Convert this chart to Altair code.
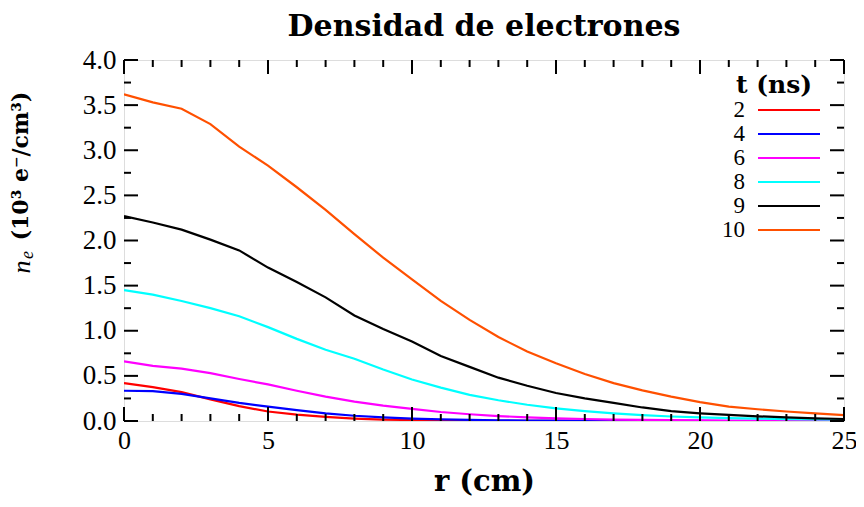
import altair as alt
import pandas as pd

# ---- data ----
r_cm = list(range(26))
t_labels = ["2", "4", "6", "8", "9", "10"]
colors = ["#ff0000", "#0000ff", "#ff00ff", "#00ffff", "#000000", "#ff5000"]

n_t2 = [0.42, 0.375, 0.32, 0.24, 0.165, 0.105, 0.07, 0.045, 0.027, 0.016, 0.010, 0.006, 0.004,
        0.003, 0.002, 0.001, 0.001, 0.001, 0.0, 0.0, 0.0, 0.0, 0.0, 0.0, 0.0, 0.0]
n_t4 = [0.335, 0.33, 0.30, 0.25, 0.20, 0.16, 0.12, 0.085, 0.058, 0.04, 0.027, 0.018, 0.012,
        0.008, 0.005, 0.004, 0.003, 0.002, 0.001, 0.001, 0.001, 0.0, 0.0, 0.0, 0.0, 0.0]
n_t6 = [0.66, 0.61, 0.58, 0.53, 0.465, 0.405, 0.335, 0.27, 0.215, 0.17, 0.135, 0.10, 0.075,
        0.055, 0.04, 0.03, 0.022, 0.016, 0.012, 0.009, 0.007, 0.005, 0.004, 0.003, 0.002, 0.002]
n_t8 = [1.45, 1.40, 1.33, 1.25, 1.16, 1.04, 0.91, 0.79, 0.69, 0.57, 0.46, 0.37, 0.29,
        0.23, 0.18, 0.14, 0.11, 0.085, 0.066, 0.05, 0.04, 0.032, 0.026, 0.021, 0.017, 0.014]
n_t9 = [2.27, 2.20, 2.12, 2.01, 1.89, 1.70, 1.54, 1.37, 1.17, 1.02, 0.88, 0.72, 0.60,
        0.48, 0.39, 0.31, 0.25, 0.20, 0.15, 0.11, 0.085, 0.067, 0.052, 0.04, 0.03, 0.022]
n_t10 = [3.62, 3.53, 3.46, 3.29, 3.04, 2.83, 2.59, 2.34, 2.07, 1.81, 1.57, 1.33, 1.12,
         0.93, 0.77, 0.64, 0.52, 0.42, 0.34, 0.27, 0.21, 0.16, 0.13, 0.105, 0.085, 0.066]

x_major = [0, 5, 10, 15, 20, 25]
x_minor = [v for v in range(26) if v % 5 != 0]
y_major = [0.0, 0.5, 1.0, 1.5, 2.0, 2.5, 3.0, 3.5, 4.0]
y_minor = [0.25, 0.75, 1.25, 1.75, 2.25, 2.75, 3.25, 3.75]

series = [n_t2, n_t4, n_t6, n_t8, n_t9, n_t10]
rows = []
for lab, vals in zip(t_labels, series):
    for r, v in zip(r_cm, vals):
        rows.append({"r": r, "n": v, "t": lab})
df = pd.DataFrame(rows)

W, H = 720, 361
SERIF = "Liberation Serif"
BOLD = "DejaVu Serif"

xscale = alt.Scale(domain=[0, 25], nice=False, zero=False)
yscale = alt.Scale(domain=[0, 4], nice=False, zero=False)
cscale = alt.Scale(domain=t_labels, range=colors)

lines = alt.Chart(df).mark_line(strokeWidth=2.2, clip=True).encode(
    x=alt.X("r:Q", scale=xscale,
            axis=alt.Axis(values=x_major, ticks=False, domain=False, grid=False,
                          labelFont=SERIF, labelFontSize=26, labelColor="black",
                          labelPadding=6, labelFlush=False, tickSize=0,
                          title="r (cm)", titleFont=BOLD, titleFontSize=29,
                          titleFontWeight="bold", titleColor="black", titlePadding=14)),
    y=alt.Y("n:Q", scale=yscale,
            axis=alt.Axis(values=y_major, format=".1f", ticks=False, domain=False, grid=False,
                          labelFont=SERIF, labelFontSize=27, labelColor="black",
                          labelPadding=8, labelFlush=False, tickSize=0, title=None)),
    color=alt.Color("t:N", scale=cscale, legend=None, sort=t_labels),
    detail="t:N",
)

def xticks(vals, length):
    d = pd.DataFrame({"v": vals})
    bot = alt.Chart(d).mark_rule(color="black", strokeWidth=2).encode(
        x=alt.X("v:Q", scale=xscale), y=alt.value(H), y2=alt.value(H - length))
    top = alt.Chart(d).mark_rule(color="black", strokeWidth=2).encode(
        x=alt.X("v:Q", scale=xscale), y=alt.value(0), y2=alt.value(length))
    return [bot, top]

def yticks(vals, length):
    d = pd.DataFrame({"v": vals})
    left = alt.Chart(d).mark_rule(color="black", strokeWidth=2).encode(
        y=alt.Y("v:Q", scale=yscale), x=alt.value(0), x2=alt.value(length))
    right = alt.Chart(d).mark_rule(color="black", strokeWidth=2).encode(
        y=alt.Y("v:Q", scale=yscale), x=alt.value(W), x2=alt.value(W - length))
    return [left, right]

main = alt.layer(lines, *xticks(x_major, 14), *xticks(x_minor, 7),
                 *yticks(y_major, 14), *yticks(y_minor, 7))

# ---- custom legend (labels on the left of the line samples) ----
leg_df = pd.DataFrame({"t": t_labels, "row": list(range(len(t_labels)))})
leg_y = alt.Y("row:Q", scale=alt.Scale(domain=[0, 5], range=[50, 170], nice=False, zero=False),
              axis=None)
leg_rules = alt.Chart(leg_df).mark_rule(strokeWidth=2.2).encode(
    x=alt.value(634), x2=alt.value(696), y=leg_y,
    color=alt.Color("t:N", scale=cscale, legend=None))
leg_text = alt.Chart(leg_df).mark_text(
    align="right", baseline="middle", font=SERIF, fontSize=23, color="black"
).encode(x=alt.value(621), y=leg_y, text="t:N")

one = pd.DataFrame({"a": [0]})
leg_title = alt.Chart(one).mark_text(
    text="t (ns)", font=BOLD, fontSize=25, fontWeight="bold", color="black",
    align="center", baseline="middle"
).encode(x=alt.value(650), y=alt.value(25))

ytitle_main = alt.Chart(one).mark_text(
    text="(10³ e⁻/cm³)", font=BOLD, fontSize=22, fontWeight="bold", color="black",
    align="center", baseline="middle", angle=270
).encode(x=alt.value(-103), y=alt.value(106))
ytitle_n = alt.Chart(one).mark_text(
    text="n", font=SERIF, fontSize=26, fontStyle="italic", color="black",
    align="center", baseline="middle", angle=270
).encode(x=alt.value(-102), y=alt.value(207))
ytitle_e = alt.Chart(one).mark_text(
    text="e", font=SERIF, fontSize=18, fontStyle="italic", color="black",
    align="center", baseline="middle", angle=270
).encode(x=alt.value(-96), y=alt.value(195))

deco = alt.layer(leg_rules, leg_text, leg_title, ytitle_main, ytitle_n, ytitle_e)

chart = alt.layer(main, deco).resolve_scale(y="independent").properties(
    width=W, height=H,
    title=alt.TitleParams("Densidad de electrones", font=BOLD, fontSize=30,
                          fontWeight="bold", color="black", anchor="middle", offset=4),
    autosize=alt.AutoSizeParams(type="none"),
    padding={"left": 116, "top": 52, "right": 12, "bottom": 78},
).configure_view(stroke="black", strokeWidth=2.5).configure(background="white")

chart.save("out.html", embed_options={"renderer": "svg", "actions": False})
